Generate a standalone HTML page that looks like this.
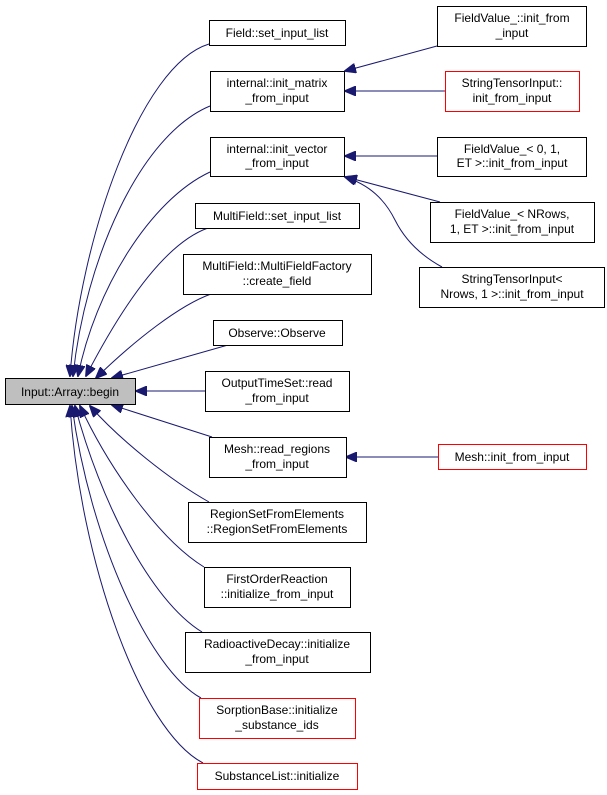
<!DOCTYPE html>
<html><head><meta charset="utf-8"><style>
body{margin:0;background:#fff}
svg{display:block}
text{font-family:"Liberation Sans",sans-serif;font-size:12px;fill:#000}
</style></head><body>
<svg width="607" height="795" viewBox="0 0 607 795">
<defs><marker id="a" markerWidth="12" markerHeight="10" refX="11" refY="5" orient="auto" markerUnits="userSpaceOnUse"><polygon points="0,0 12,5 0,10" fill="#191970" stroke="#191970"/></marker></defs>
<g fill="none" stroke="#191970" stroke-width="1" marker-end="url(#a)">
<path d="M209,44 C140,65 80,240 70,376"/>
<path d="M210,106 C140,135 85,260 73,376"/>
<path d="M210,172 C150,200 95,290 78,376"/>
<path d="M208,228 C160,245 115,320 86,376"/>
<path d="M211,294 C180,305 135,340 96,378"/>
<path d="M228,345 L112,378"/>
<path d="M205,391 L136,391"/>
<path d="M212,437 L112,405"/>
<path d="M209,502 C170,480 120,440 90,406"/>
<path d="M204,567 C160,540 110,470 80,406"/>
<path d="M202,632 C150,600 100,500 75,406"/>
<path d="M201,698 C150,670 90,540 72,406"/>
<path d="M203,763 C140,730 80,560 70,406"/>
<path d="M437,46 L345,71"/>
<path d="M445,91 L345,91"/>
<path d="M437,156 L345,156"/>
<path d="M440,202 L346,177"/>
<path d="M442,267 C420,255 405,240 395,220 C385,200 370,185 345,177"/>
<path d="M438,457 L346,457"/>
</g>
<g stroke-width="1">
<rect x="5.5" y="378.5" width="130" height="26" fill="#bfbfbf" stroke="#000"/>
<g fill="#fff" stroke="#000">
<rect x="209.5" y="20.5" width="136" height="25"/>
<rect x="210.5" y="71.5" width="134" height="40"/>
<rect x="210.5" y="137.5" width="134" height="39"/>
<rect x="195.5" y="203.5" width="164" height="25"/>
<rect x="183.5" y="254.5" width="188" height="40"/>
<rect x="213.5" y="320.5" width="129" height="25"/>
<rect x="205.5" y="371.5" width="144" height="40"/>
<rect x="209.5" y="437.5" width="137" height="40"/>
<rect x="188.5" y="502.5" width="178" height="40"/>
<rect x="204.5" y="567.5" width="146" height="40"/>
<rect x="185.5" y="632.5" width="185" height="40"/>
<rect x="437.5" y="6.5" width="149" height="40"/>
<rect x="437.5" y="137.5" width="149" height="39"/>
<rect x="430.5" y="202.5" width="164" height="40"/>
<rect x="419.5" y="267.5" width="185" height="40"/>
</g>
<g fill="#fff" stroke="#ff0000">
<rect x="445.5" y="71.5" width="134" height="40"/>
<rect x="438.5" y="444.5" width="148" height="25"/>
<rect x="199.5" y="698.5" width="156" height="40"/>
<rect x="197.5" y="763.5" width="160" height="26"/>
</g>
</g>
<g text-anchor="middle">
<text x="70" y="396">Input::Array::begin</text>
<text x="277" y="37">Field::set_input_list</text>
<text x="277" y="87">internal::init_matrix</text><text x="277" y="102">_from_input</text>
<text x="277" y="153">internal::init_vector</text><text x="277" y="167">_from_input</text>
<text x="277" y="220">MultiField::set_input_list</text>
<text x="277" y="270">MultiField::MultiFieldFactory</text><text x="277" y="285">::create_field</text>
<text x="277" y="337">Observe::Observe</text>
<text x="277" y="387">OutputTimeSet::read</text><text x="277" y="402">_from_input</text>
<text x="277" y="453">Mesh::read_regions</text><text x="277" y="468">_from_input</text>
<text x="277" y="518">RegionSetFromElements</text><text x="277" y="533">::RegionSetFromElements</text>
<text x="277" y="583">FirstOrderReaction</text><text x="277" y="598">::initialize_from_input</text>
<text x="277" y="648">RadioactiveDecay::initialize</text><text x="277" y="663">_from_input</text>
<text x="277" y="714">SorptionBase::initialize</text><text x="277" y="729">_substance_ids</text>
<text x="277" y="780">SubstanceList::initialize</text>
<text x="512" y="22">FieldValue_::init_from</text><text x="512" y="37">_input</text>
<text x="512" y="87">StringTensorInput::</text><text x="512" y="102">init_from_input</text>
<text x="512" y="153">FieldValue_&lt; 0, 1,</text><text x="512" y="167">ET &gt;::init_from_input</text>
<text x="512" y="218">FieldValue_&lt; NRows,</text><text x="512" y="233">1, ET &gt;::init_from_input</text>
<text x="512" y="283">StringTensorInput&lt;</text><text x="512" y="298">Nrows, 1 &gt;::init_from_input</text>
<text x="512" y="461">Mesh::init_from_input</text>
</g>
</svg>
</body></html>
